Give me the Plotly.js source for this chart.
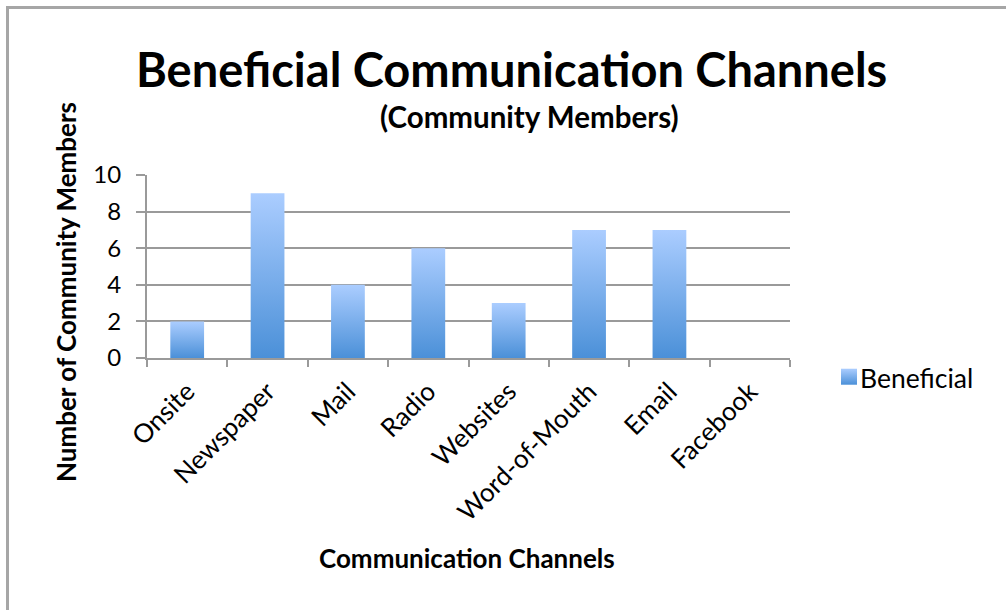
<!DOCTYPE html>
<html><head><meta charset="utf-8">
<script src="https://cdn.plot.ly/plotly-3.0.1.min.js"></script>
<style>
html,body{margin:0;padding:0;background:#fff;}
#wrap{position:relative;width:1006px;height:610px;}
#chart{width:1006px;height:610px;}
#frame{position:absolute;left:6px;top:6px;width:1010px;height:620px;border-left:3px solid #a6a6a6;border-top:3px solid #a6a6a6;pointer-events:none;}
</style></head>
<body><div id="wrap"><div id="chart"></div><div id="frame"></div></div>
<script>
const categories = ["Onsite","Newspaper","Mail","Radio","Websites","Word-of-Mouth","Email","Facebook"];
const beneficial = [2, 9, 4, 6, 3, 7, 7, 0];
const seriesName = "Beneficial";
const yTicks = [0, 2, 4, 6, 8, 10];

const F = "Lato, 'Open Sans', sans-serif";
const trace = {
  type: "bar", x: categories, y: beneficial, name: seriesName,
  marker: {color: "#7aaee8", line: {width: 0}},
  showlegend: true, hoverinfo: "x+y"
};
const layout = {
  width: 1006, height: 610,
  margin: {l: 147, r: 216, t: 175, b: 252, pad: 0},
  paper_bgcolor: "#fff", plot_bgcolor: "#fff",
  bargap: 0.58,
  font: {family: F, color: "#000"},
  showlegend: true,
  legend: {x: 1.065, y: 0.56, xanchor: "left", yanchor: "middle",
    font: {size: 26.5, family: F, color: "#000"}, bgcolor: "rgba(0,0,0,0)", itemwidth: 30},
  xaxis: {
    type: "category", showline: true, linecolor: "#9a9a9a", linewidth: 2,
    ticks: "outside", tickson: "boundaries", ticklen: 7, tickwidth: 2, tickcolor: "#9a9a9a",
    tickangle: -45, tickfont: {size: 26, family: F, color: "#000"}, ticklabelstandoff: 6,
    showgrid: false, zeroline: false, fixedrange: true
  },
  yaxis: {
    range: [0, 10], tickvals: yTicks, ticktext: yTicks.map(String),
    showline: true, linecolor: "#9a9a9a", linewidth: 2,
    ticks: "outside", ticklen: 9, tickwidth: 2, tickcolor: "#9a9a9a",
    showgrid: true, gridcolor: "#9a9a9a", gridwidth: 2, zeroline: false,
    tickfont: {size: 24, family: F, color: "#000"}, ticklabelstandoff: 10, fixedrange: true
  },
  annotations: [
    {text: "<b>Beneficial Communication Channels</b>", xref: "paper", yref: "paper",
     x: 0.567, y: -0.02, xanchor: "center", yanchor: "middle", showarrow: false,
     font: {size: 47, family: F, color: "#000"}},
    {text: "<b>(Community Members)</b>", xref: "paper", yref: "paper",
     x: 0.567, y: 0, xanchor: "center", yanchor: "middle", showarrow: false,
     font: {size: 29.5, family: F, color: "#000"}},
    {text: "<b>Communication Channels</b>", xref: "paper", yref: "paper",
     x: 0.5, y: 0, xanchor: "center", yanchor: "middle", showarrow: false,
     font: {size: 26, family: F, color: "#000"}},
    {text: "<b>Number of Community Members</b>", xref: "paper", yref: "paper",
     x: 0, y: 0, xanchor: "center", yanchor: "middle", textangle: -90, showarrow: false,
     font: {size: 26, family: F, color: "#000"}}
  ]
};
// convert pixel positions to paper coordinates
const pw = 1006 - 147 - 216, ph = 610 - 175 - 252;
function px(x){return (x - 147) / pw;}
function py(y){return (610 - 252 - y) / ph;}
layout.annotations[0].x = px(512); layout.annotations[0].y = py(69);
layout.annotations[1].x = px(529); layout.annotations[1].y = py(116);
layout.annotations[2].x = px(467); layout.annotations[2].y = py(558);
layout.annotations[3].x = px(66); layout.annotations[3].y = py(292);
layout.legend.x = px(820); layout.legend.y = py(378);

Plotly.newPlot("chart", [trace], layout, {staticPlot: true, displayModeBar: false}).then(function(gd){
  const svg = gd.querySelector("svg.main-svg");
  const ns = "http://www.w3.org/2000/svg";
  let defs = svg.querySelector("defs");
  if (!defs) { defs = document.createElementNS(ns, "defs"); svg.insertBefore(defs, svg.firstChild); }
  const g = document.createElementNS(ns, "linearGradient");
  g.setAttribute("id", "barGrad"); g.setAttribute("x1", "0"); g.setAttribute("y1", "0");
  g.setAttribute("x2", "0"); g.setAttribute("y2", "1");
  [["0%", "#abcdff"], ["100%", "#4b90d8"]].forEach(function(s){
    const st = document.createElementNS(ns, "stop");
    st.setAttribute("offset", s[0]); st.setAttribute("stop-color", s[1]);
    g.appendChild(st);
  });
  defs.appendChild(g);
  gd.querySelectorAll(".barlayer .point path, .legend .legendpoints path").forEach(function(p){
    p.style.fill = "url(#barGrad)";
  });
  gd.querySelectorAll(".legend .legendpoints path").forEach(function(p){
    p.setAttribute("d", "M1,-9h16v16h-16z");
  });
});
</script></body></html>
